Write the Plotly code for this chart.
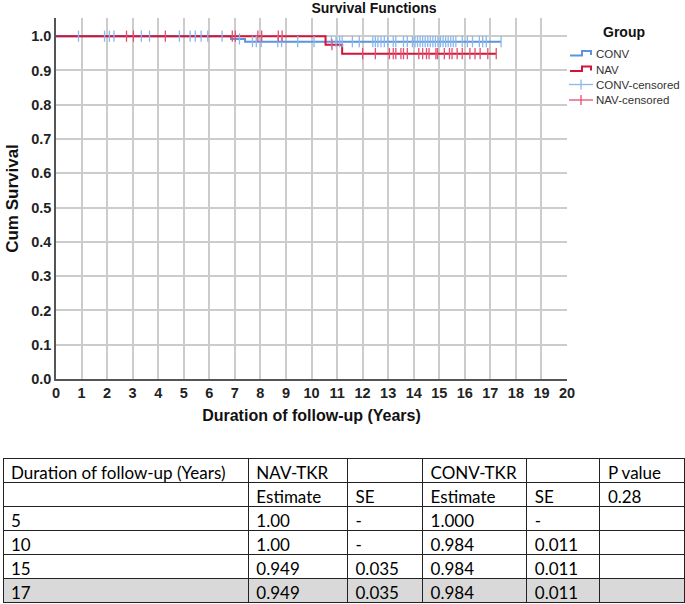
import plotly.graph_objects as go

# ---------------- data ----------------
conv_times = [0, 6.85, 7.40, 17.42]
conv_surv = [1.0, 0.992, 0.984, 0.984]
nav_times = [0, 10.55, 11.20, 17.23]
nav_surv = [1.0, 0.975, 0.949, 0.949]

conv_censored = [0.88, 1.90, 2.09, 2.27, 3.34, 3.66, 4.83, 5.25, 5.45, 5.68, 5.94,
                 6.50, 7.18, 7.69, 7.84, 8.03, 8.68, 8.83, 9.46, 10.10, 10.78, 10.96,
                 11.10, 11.20, 11.60, 11.87, 12.40, 12.50, 12.60, 12.72, 12.85, 12.98,
                 13.20, 13.30, 13.60, 13.75, 13.95, 14.05, 14.15, 14.25, 14.35, 14.45,
                 14.55, 14.65, 14.75, 14.85, 14.95, 15.05, 15.15, 15.25, 15.35, 15.45,
                 15.55, 15.65, 15.90, 16.10, 16.30, 16.57, 16.70, 16.84, 17.42]
nav_censored = [2.76, 3.03, 4.28, 6.90, 7.02, 7.90, 8.05, 8.70, 8.85, 10.80, 12.00,
                12.50, 13.05, 13.20, 13.30, 13.50, 13.60, 13.75, 14.20, 14.35, 14.50,
                14.60, 14.87, 14.93, 15.20, 15.40, 15.50, 15.70, 15.90, 16.20, 16.40,
                16.60, 16.90, 17.23]

x_ticks = list(range(0, 21))
y_ticks = [round(i * 0.1, 1) for i in range(0, 11)]

legend_title = "Group"
legend_labels = ["CONV", "NAV", "CONV-censored", "NAV-censored"]

table_header = ["Duration of follow-up (Years)", "NAV-TKR", "", "CONV-TKR", "", "P value"]
col_duration = ["", "5", "10", "15", "17"]
col_nav_est = ["Estimate", "1.00", "1.00", "0.949", "0.949"]
col_nav_se = ["SE", "-", "-", "0.035", "0.035"]
col_conv_est = ["Estimate", "1.000", "0.984", "0.984", "0.984"]
col_conv_se = ["SE", "-", "0.011", "0.011", "0.011"]
col_p = ["0.28", "", "", "", ""]


def surv_at(t, times, vals):
    s = vals[0]
    for tt, v in zip(times, vals):
        if tt <= t:
            s = v
    return s


# ---------------- style ----------------
W, H = 685, 604
C_CONV = "#5a95dd"
C_CONV_C = "#8ab7ec"
C_NAV = "#d2143a"
C_NAV_C = "#e2506e"
FONT = "Liberation Sans, Arial, sans-serif"

fig = go.Figure()

fig.add_trace(go.Scatter(x=conv_times, y=conv_surv, mode="lines", line_shape="hv",
                         line=dict(color=C_CONV, width=2), name="CONV", showlegend=False))
fig.add_trace(go.Scatter(x=nav_times, y=nav_surv, mode="lines", line_shape="hv",
                         line=dict(color=C_NAV, width=2), name="NAV", showlegend=False))
fig.add_trace(go.Scatter(x=conv_censored,
                         y=[surv_at(t, conv_times, conv_surv) for t in conv_censored],
                         mode="markers", showlegend=False, name="CONV-censored",
                         marker=dict(symbol="line-ns", size=8,
                                     line=dict(color=C_CONV_C, width=1.3))))
fig.add_trace(go.Scatter(x=nav_censored,
                         y=[surv_at(t, nav_times, nav_surv) for t in nav_censored],
                         mode="markers", showlegend=False, name="NAV-censored",
                         marker=dict(symbol="line-ns", size=8,
                                     line=dict(color=C_NAV_C, width=1.3))))

# table
fills = [["white"] * 4 + ["#d9d9d9"]] * 6
fig.add_trace(go.Table(
    domain=dict(x=[3 / W, 684 / W], y=[0, (H - 458) / H]),
    columnwidth=[245, 99, 75, 104, 73, 84],
    header=dict(values=table_header, height=24, align="left",
                line=dict(color="#222222", width=1), fill_color="white",
                font=dict(family="Lato, sans-serif", size=17, color="black")),
    cells=dict(values=[col_duration, col_nav_est, col_nav_se, col_conv_est, col_conv_se, col_p],
               height=24, align="left",
               line=dict(color="#222222", width=1), fill_color=fills,
               font=dict(family="Lato, sans-serif", size=17, color="black")),
))

# manual legend (paper coordinates in pixels -> fractions)
def px(x):
    return x / W


def py(y):
    return 1 - y / H


shapes = []
annotations = []
annotations.append(dict(text=f"<b>{legend_title}</b>", x=px(624), y=py(32), xref="paper",
                        yref="paper", showarrow=False, xanchor="center", yanchor="middle",
                        font=dict(size=14, color="#111111")))
legend_y = [54, 69.5, 84.5, 100]
legend_cols = [C_CONV, C_NAV, C_CONV_C, C_NAV_C]
for i, (lab, yy, col) in enumerate(zip(legend_labels, legend_y, legend_cols)):
    annotations.append(dict(text=lab, x=px(594), y=py(yy), xref="paper", yref="paper",
                            showarrow=False, xanchor="left", yanchor="middle",
                            font=dict(size=11.5, color="#333333")))
    if i < 2:
        path = (f"M {px(570)} {py(yy + 1.5)} L {px(582)} {py(yy + 1.5)} L {px(582)} {py(yy - 3)} "
                f"L {px(591)} {py(yy - 3)} L {px(591)} {py(yy + 1)}")
        shapes.append(dict(type="path", path=path, xref="paper", yref="paper",
                           line=dict(color=col, width=2)))
    else:
        shapes.append(dict(type="line", x0=px(569), x1=px(593), y0=py(yy), y1=py(yy),
                           xref="paper", yref="paper", line=dict(color=col, width=1.3)))
        shapes.append(dict(type="line", x0=px(581), x1=px(581), y0=py(yy - 5), y1=py(yy + 5),
                           xref="paper", yref="paper", line=dict(color=col, width=1.3)))

fig.update_layout(
    width=W, height=H,
    margin=dict(l=0, r=0, t=0, b=0, autoexpand=False),
    paper_bgcolor="white", plot_bgcolor="white",
    font=dict(family=FONT, color="#111111"),
    showlegend=False,
    title=dict(text="<b>Survival Functions</b>", x=374 / W, xanchor="center",
               y=1 - 8 / H, yanchor="middle", font=dict(size=14, color="#111111")),
    xaxis=dict(domain=[56 / W, 567 / W], range=[0, 20], tickvals=x_ticks,
               ticktext=[f"<b>{v}</b>" for v in x_ticks], automargin=False,
               showgrid=True, gridcolor="#cccccc", gridwidth=1.5,
               showline=True, linecolor="#555555", linewidth=1.5,
               ticks="", zeroline=False, tickfont=dict(size=14.5, color="#222222"),
               title=dict(text="<b>Duration of follow-up (Years)</b>", standoff=10,
                          font=dict(size=16, color="#111111"))),
    yaxis=dict(domain=[1 - 379 / H, 1 - 18 / H], range=[0, 1.053], tickvals=y_ticks,
               ticktext=[f"<b>{v:.1f}</b>" for v in y_ticks], automargin=False,
               showgrid=True, gridcolor="#cccccc", gridwidth=1.5,
               showline=True, linecolor="#555555", linewidth=1.5,
               ticks="", zeroline=False, tickfont=dict(size=14.5, color="#222222"),
               title=dict(text="<b>Cum Survival</b>", standoff=8,
                          font=dict(size=17, color="#111111"))),
    shapes=shapes,
    annotations=annotations,
)

fig.write_html("out.html", config={"displayModeBar": False},
               post_script="document.body.style.margin='0';document.body.style.overflow='hidden';")
